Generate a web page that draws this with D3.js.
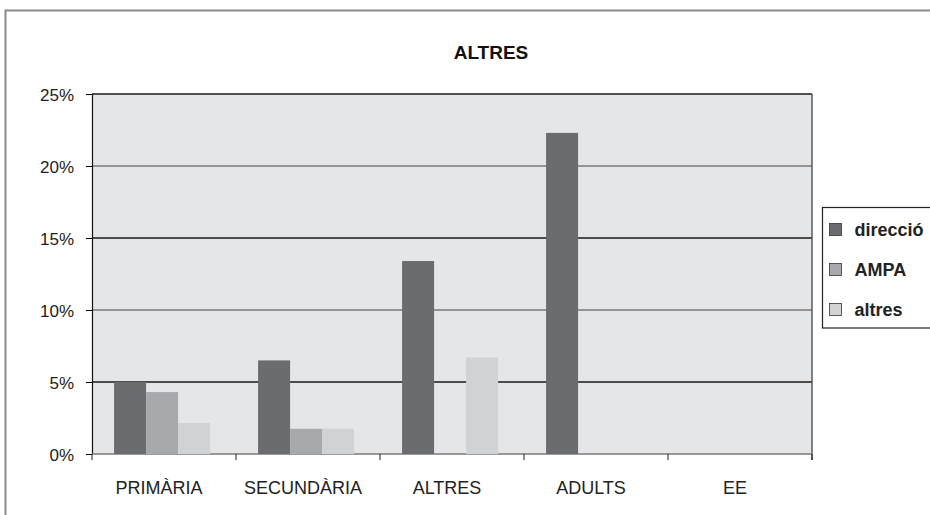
<!DOCTYPE html>
<html>
<head>
<meta charset="utf-8">
<script src="https://cdn.jsdelivr.net/npm/d3@7"></script>
<style>
  body { margin: 0; background: #fff; }
  text { font-family: "Liberation Sans", Arial, sans-serif; }
</style>
</head>
<body>
<svg id="chart" width="930" height="515"></svg>
<script>
// data
let categories = ["PRIMÀRIA", "SECUNDÀRIA", "ALTRES", "ADULTS", "EE"];
let seriesNames = ["direcció", "AMPA", "altres"];
let seriesColors = ["#6b6c70", "#a8a9ad", "#d1d2d4"];
let direccio = [5.0, 6.5, 13.4, 22.3, 0];
let ampa = [4.3, 1.75, 0, 0, 0];
let altres = [2.15, 1.75, 6.7, 0, 0];
let yTicks = [0, 5, 10, 15, 20, 25];

let seriesValues = [direccio, ampa, altres];

function getConfig() {
    let margin = { top: 94, left: 92 };
    let width = 720, height = 360;
    let svg = d3.select("#chart");
    let container = svg.append("g")
        .attr("transform", "translate(" + margin.left + "," + margin.top + ")");
    return { svg, container, width, height, margin };
}

function getScales(config) {
    let { width, height } = config;
    let xScale = d3.scaleBand().domain(categories).range([0, width]);
    let xInner = d3.scaleBand().domain(seriesNames)
        .range([0, xScale.bandwidth()])
        .paddingOuter(0.75).paddingInner(0).align(0.46);
    let yScale = d3.scaleLinear().domain([0, 25]).range([height, 0]);
    return { xScale, xInner, yScale };
}

function drawFrame(config) {
    let { svg, container, width, height } = config;
    // outer chart border (cropped on right/bottom)
    svg.append("path")
        .attr("d", "M5.5,515 V10.5 H930")
        .attr("fill", "none")
        .attr("stroke", "#8a8a8a")
        .attr("stroke-width", 2);

    svg.append("text")
        .attr("x", 491).attr("y", 59)
        .attr("text-anchor", "middle")
        .style("font-size", "19px")
        .style("font-weight", "bold")
        .attr("fill", "#111")
        .text("ALTRES");

    container.append("rect")
        .attr("width", width).attr("height", height)
        .attr("fill", "#e5e6e8");
}

function drawAxes(config, scales) {
    let { container, width, height } = config;
    let { xScale, yScale } = scales;

    // gridlines, alternating tone as in the scan
    container.selectAll(".grid")
        .data(yTicks.filter(d => d > 0))
        .enter().append("line")
        .attr("x1", 0).attr("x2", width)
        .attr("y1", d => yScale(d)).attr("y2", d => yScale(d))
        .attr("stroke", d => (d % 10 === 0 ? "#7a7a7a" : "#1a1a1a"))
        .attr("stroke-width", 1.3);

    let yAxis = container.append("g")
        .call(d3.axisLeft(yScale).tickValues(yTicks).tickSize(6).tickSizeOuter(0)
            .tickFormat(d => d + "%"));
    yAxis.select(".domain").attr("stroke", "#111").attr("stroke-width", 1.2);
    yAxis.selectAll("text").style("font-size", "17px").attr("fill", "#222")
        .attr("dx", "-9px").attr("dy", "0.36em");

    // right border of the plot
    container.append("line")
        .attr("x1", width).attr("x2", width).attr("y1", 0).attr("y2", height + 6)
        .attr("stroke", "#444").attr("stroke-width", 1.3);

    let ticks = categories.map(c => xScale(c)).concat([width]);
    let xAxis = container.append("g")
        .attr("transform", "translate(0," + height + ")");
    xAxis.append("line")
        .attr("x1", 0).attr("x2", width)
        .attr("stroke", "#7a7a7a").attr("stroke-width", 1.5);
    xAxis.selectAll(".tk").data(ticks).enter().append("line")
        .attr("x1", d => d).attr("x2", d => d)
        .attr("y1", 0).attr("y2", 6)
        .attr("stroke", "#222");
    xAxis.selectAll(".lbl").data(categories).enter().append("text")
        .attr("x", d => xScale(d) + xScale.bandwidth() / 2 - 5)
        .attr("y", 40)
        .attr("text-anchor", "middle")
        .style("font-size", "18px")
        .attr("fill", "#222")
        .text(d => d);
}

function drawBars(config, scales) {
    let { container, height } = config;
    let { xScale, xInner, yScale } = scales;

    let groups = container.selectAll(".grp")
        .data(categories)
        .enter().append("g")
        .attr("transform", d => "translate(" + xScale(d) + ",0)");

    groups.selectAll("rect")
        .data((c, i) => seriesNames.map((s, j) => ({ s, j, v: seriesValues[j][i] })))
        .enter().append("rect")
        .filter(d => d.v > 0)
        .attr("x", d => xInner(d.s))
        .attr("width", xInner.bandwidth())
        .attr("y", d => yScale(d.v))
        .attr("height", d => height - yScale(d.v))
        .attr("fill", d => seriesColors[d.j]);
}

function drawLegend(config) {
    let { svg } = config;
    svg.append("rect")
        .attr("x", 822.5).attr("y", 207.5)
        .attr("width", 120).attr("height", 120.5)
        .attr("fill", "#fff").attr("stroke", "#222").attr("stroke-width", 1.2);

    let items = svg.selectAll(".leg").data(seriesNames)
        .enter().append("g")
        .attr("transform", (d, i) => "translate(829.5," + (223.5 + i * 40) + ")");
    items.append("rect")
        .attr("width", 12).attr("height", 12)
        .attr("fill", (d, i) => seriesColors[i])
        .attr("stroke", "#333").attr("stroke-width", 0.8);
    items.append("text")
        .attr("x", 25).attr("y", 12.5)
        .style("font-size", "18px").style("font-weight", "bold")
        .attr("fill", "#222")
        .text(d => d);
}

function drawChart() {
    let config = getConfig();
    let scales = getScales(config);
    drawFrame(config);
    drawAxes(config, scales);
    drawBars(config, scales);
    drawLegend(config);
}

drawChart();
</script>
</body>
</html>
